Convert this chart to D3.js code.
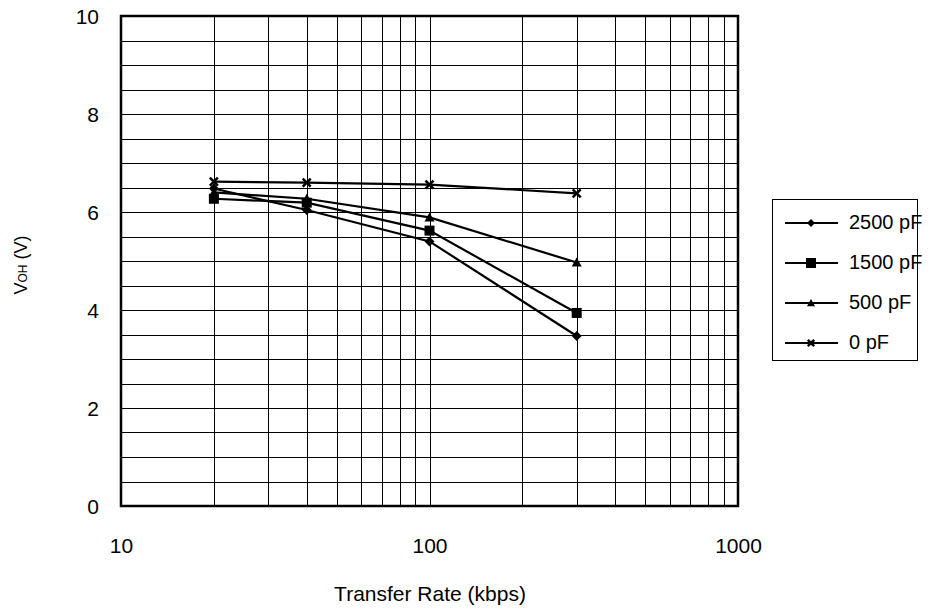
<!DOCTYPE html>
<html><head><meta charset="utf-8">
<script src="https://cdn.jsdelivr.net/npm/d3@7"></script>
<style>body{margin:0;background:#fff}svg{display:block}text{font-family:"Liberation Sans",Arial,sans-serif;fill:#000}</style>
</head><body><svg id="c" width="934" height="613"></svg>
<script>
const rates = [20, 40, 100, 300];
const v2500 = [6.48, 6.04, 5.40, 3.47];
const v1500 = [6.27, 6.19, 5.62, 3.94];
const v500 = [6.40, 6.27, 5.89, 4.97];
const v0 = [6.62, 6.60, 6.56, 6.38];
const seriesNames = ["2500 pF", "1500 pF", "500 pF", "0 pF"];
const seriesMarkers = ["diamond", "square", "triangle", "cross"];
const xTicks = [10, 100, 1000];
const yTicks = [0, 2, 4, 6, 8, 10];

const seriesVals = [v2500, v1500, v500, v0];
const svg = d3.select("#c");
const L = 121, R = 738, T = 16, B = 506;
const FS = 21;
const x = d3.scaleLog().domain([10, 1000]).range([L, R]);
const y = d3.scaleLinear().domain([0, 10]).range([B, T]);

const grid = svg.append("g");
grid.selectAll("line.h").data(d3.range(0.5, 10, 0.5)).join("line")
  .attr("x1", L).attr("x2", R).attr("y1", d => Math.round(y(d)) + 0.5).attr("y2", d => Math.round(y(d)) + 0.5)
  .attr("stroke", "#000").attr("stroke-width", 1);
const vx = [];
[10, 100].forEach(dec => { for (let k = 2; k <= 10; k++) vx.push(dec * k); });
grid.selectAll("line.v").data(vx.filter(d => d < 1000)).join("line")
  .attr("y1", T).attr("y2", B).attr("x1", d => Math.round(x(d)) + 0.5).attr("x2", d => Math.round(x(d)) + 0.5)
  .attr("stroke", "#000").attr("stroke-width", 1);
svg.append("rect").attr("x", L).attr("y", T).attr("width", R - L).attr("height", B - T)
  .attr("fill", "none").attr("stroke", "#000").attr("stroke-width", 2.5);

const xAxis = d3.axisBottom(x).tickValues(xTicks).tickFormat(d3.format("d")).tickSize(0).tickPadding(0);
const gx = svg.append("g").attr("transform", `translate(0,${B + 32})`).call(xAxis);
gx.select(".domain").remove();
gx.selectAll("text").attr("font-size", FS).attr("dy", "0.71em").style("font-family", "Liberation Sans, Arial");
const yAxis = d3.axisLeft(y).tickValues(yTicks).tickFormat(d3.format("d")).tickSize(0).tickPadding(0);
const gy = svg.append("g").attr("transform", `translate(${L - 22},0)`).call(yAxis);
gy.select(".domain").remove();
gy.selectAll("text").attr("font-size", FS).attr("dy", "0.35em").style("font-family", "Liberation Sans, Arial");

svg.append("text").attr("x", (L + R) / 2 + 0.5).attr("y", 601).attr("text-anchor", "middle").attr("font-size", FS).text("Transfer Rate (kbps)");
const yt = svg.append("text").attr("transform", "translate(27,265) rotate(-90)").attr("text-anchor", "middle").attr("font-size", 18);
yt.append("tspan").text("V");
yt.append("tspan").attr("font-size", 12).text("OH");
yt.append("tspan").text(" (V)");

function marker(g, type, cx, cy, s) {
  s = s || 5;
  if (type === "diamond") g.append("path").attr("d", `M${cx},${cy - s}L${cx + s},${cy}L${cx},${cy + s}L${cx - s},${cy}Z`).attr("fill", "#000");
  else if (type === "square") g.append("rect").attr("x", cx - s).attr("y", cy - s).attr("width", 2 * s).attr("height", 2 * s).attr("fill", "#000");
  else if (type === "triangle") g.append("path").attr("d", `M${cx},${cy - s}L${cx + s},${cy + s * 0.8}L${cx - s},${cy + s * 0.8}Z`).attr("fill", "#000");
  else { const c = s * 0.8; g.append("path").attr("d", `M${cx - c},${cy - c}L${cx + c},${cy + c}M${cx + c},${cy - c}L${cx - c},${cy + c}`).attr("stroke", "#000").attr("stroke-width", 2.5); }
}

const line = d3.line().x(d => x(d[0])).y(d => y(d[1]));
seriesVals.forEach((vals, i) => {
  const pts = rates.map((r, j) => [r, vals[j]]);
  const g = svg.append("g");
  g.append("path").attr("d", line(pts)).attr("fill", "none").attr("stroke", "#000").attr("stroke-width", 2.2);
  pts.forEach(p => marker(g, seriesMarkers[i], x(p[0]), y(p[1])));
});

const lg = svg.append("g");
lg.append("rect").attr("x", 772.5).attr("y", 199.5).attr("width", 145).attr("height", 161).attr("fill", "#fff").attr("stroke", "#000").attr("stroke-width", 1);
const ly = [223, 263, 303, 343];
seriesNames.forEach((n, i) => {
  lg.append("line").attr("x1", 785).attr("x2", 838).attr("y1", ly[i]).attr("y2", ly[i]).attr("stroke", "#000").attr("stroke-width", 2.2);
  marker(lg, seriesMarkers[i], 811, ly[i], i === 1 ? 5 : 4);
  lg.append("text").attr("x", 849).attr("y", ly[i]).attr("dy", "0.3em").attr("font-size", FS - 1).text(n);
});
</script></body></html>
